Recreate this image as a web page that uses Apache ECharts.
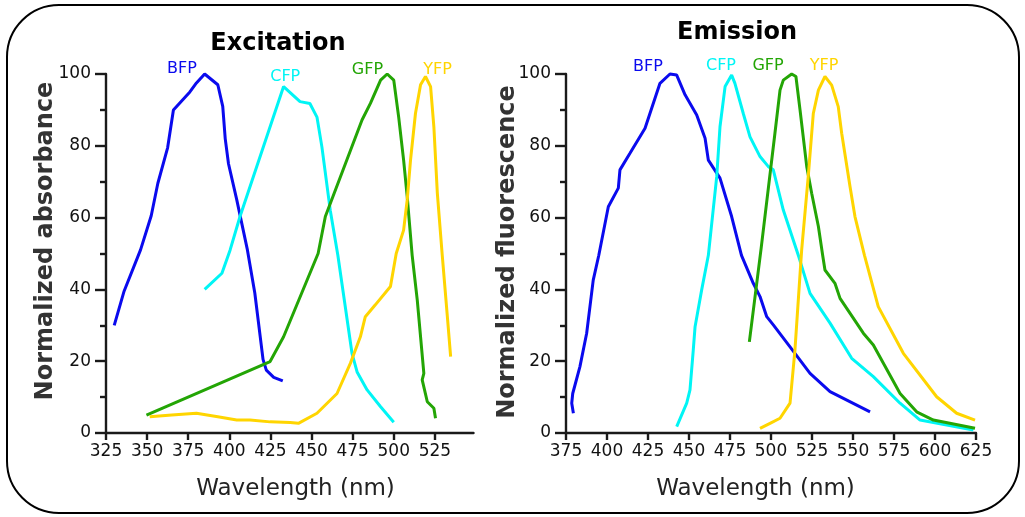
<!DOCTYPE html>
<html>
<head>
<meta charset="utf-8">
<script src="https://cdn.jsdelivr.net/npm/echarts@6/dist/echarts.min.js"></script>
<style>
html,body{margin:0;padding:0;background:#fff;}
#chart{width:1025px;height:517px;}
</style>
</head>
<body>
<div id="chart"></div>
<script>
// ---- Data (wavelength nm, normalized value) ----
var exBFP = [[330,30],[336,39.5],[346,51],[352.5,60.5],[356.5,69.5],[362.5,79.5],[366,90],[376,95],[380,97.5],[385,100],[393,97],[396,91],[397.5,82],[399.5,75],[404.5,65],[411,51],[415.5,39],[420.5,20.5],[422.5,17.5],[427,15.5],[432.5,14.5]];
var exCFP = [[385,40],[395.5,44.5],[400.5,51],[406.5,60.3],[433,96.5],[443,92.3],[449,91.8],[453.3,88],[456.3,79.7],[461.4,62],[466,49.5],[474.6,22.2],[477.7,17],[483.8,12],[492,7.3],[500,3]];
var exGFP = [[349.6,5],[424.8,19.9],[433,26.8],[454,50],[458.4,60.3],[480.7,87.2],[485.8,91.8],[492,98.3],[496,100],[500,98.3],[503,88],[506,76],[508.2,65.8],[511.2,49.5],[514.3,37],[518.3,16.6],[517.3,14.8],[520.4,8.7],[524.4,6.9],[525.4,4.1]];
var exYFP = [[351.6,4.5],[365,5],[380,5.5],[393,4.5],[404.5,3.6],[412.6,3.6],[424.8,3.1],[437,2.9],[442,2.7],[453.3,5.5],[465.5,11],[473.6,19.4],[479.7,26.8],[482.7,32.4],[488.8,35.7],[498,40.8],[501.5,50],[506,56.5],[508.2,65],[510.2,76],[513.2,89],[516.3,97],[519.3,99.3],[522.4,96.5],[524.4,85.3],[526.5,66.8],[529.5,49.5],[532.6,32.4],[534.6,21.3]];

var emBFP = [[379.5,5.5],[378.5,8.3],[379.1,11],[383.5,18.5],[387.6,27.8],[391.6,42.6],[395,49.5],[400.8,63],[406.9,68.2],[407.9,73.3],[414,77.9],[423.2,84.9],[432.3,97.4],[438.4,100],[442.5,99.7],[447.6,94.2],[454.7,88.6],[459.8,82.1],[461.8,76],[468.9,71],[476,60.3],[482,49.5],[489.2,41.7],[493.3,38],[497.4,32.4],[501.4,30.1],[511.6,24],[523.8,16.6],[536,11.5],[560.4,5.9]];
var emCFP = [[442.5,1.8],[448.6,8.3],[450.6,12],[452.6,23.1],[453.7,29.6],[457.7,39.8],[461.8,49.5],[466.9,71.4],[468.9,85.3],[472,96.5],[476,99.7],[478,97.4],[483.1,89],[487.2,82.5],[493.3,77],[498.4,74.2],[501.4,73.3],[507.5,62.1],[517,49],[523.8,38.9],[536,30.6],[549.2,20.8],[562.4,15.7],[578.7,8.3],[590.9,3.6],[623.4,0.8]];
var emGFP = [[486.8,25.4],[494,51.5],[502.4,83.5],[505.5,95.5],[507.5,98.3],[512.6,100],[515.2,99.3],[517.7,90],[521.8,74.2],[524.8,66.8],[528.9,57.5],[531.5,49.5],[532.9,45.4],[539,41.7],[542.1,37.5],[556.3,27.8],[562.4,24.5],[578.7,11],[588.8,5.9],[599,3.6],[624.4,1.3]];
var emYFP = [[493.3,1.3],[499.4,2.7],[505.5,4.1],[511.6,8.3],[514.6,23.1],[518.7,51],[522.7,71.4],[525.8,89],[528.9,95.5],[532.9,99.3],[537,96.9],[541,90.9],[543.1,83.5],[548.2,68.6],[551.2,60.3],[557,49.5],[565.4,35.2],[580.7,22.2],[601,10.1],[613.2,5.5],[624.4,3.6]];

// ---- Tick labels ----
var xTicksEx = [325,350,375,400,425,450,475,500,525];
var xTicksEm = [375,400,425,450,475,500,525,550,575,600,625];

// ---- Series names and label anchor positions (data coords) ----
var names = ['BFP','CFP','GFP','YFP'];
var exLabelPos = [[371.2,101.4],[434,99.2],[484,101.1],[526.6,101.1]];
var emLabelPos = [[425,102],[469.5,102.2],[498.2,102.2],[532.3,102.2]];

var colors = ['#0a0aee','#00f5f5','#23a505','#ffd500'];
var FONT = 'DejaVu Sans';

var chart = echarts.init(document.getElementById('chart'), null, {renderer:'canvas'});

function mkX(grid, min, max, ticks){
  return {
    type:'value', gridIndex:grid, min:min, max:max, interval:25,
    axisLine:{show:true, onZero:false, lineStyle:{color:'#1a1a1a', width:2.4}},
    axisTick:{show:true, length:7, customValues:ticks, lineStyle:{color:'#1a1a1a', width:2.4}},
    axisLabel:{show:true, customValues:ticks, margin:10, color:'#111', fontSize:17, fontFamily:FONT},
    splitLine:{show:false}
  };
}
function mkY(grid){
  return {
    type:'value', gridIndex:grid, min:0, max:100, interval:20,
    axisLine:{show:true, onZero:false, lineStyle:{color:'#1a1a1a', width:2.4}},
    axisTick:{show:true, length:11, lineStyle:{color:'#1a1a1a', width:2.4}},
    minorTick:{show:true, splitNumber:2, length:6, lineStyle:{color:'#1a1a1a', width:2.4}},
    axisLabel:{show:true, margin:15, color:'#111', fontSize:17, fontFamily:FONT},
    splitLine:{show:false}
  };
}

var series = [];
var exData = [exBFP, exCFP, exGFP, exYFP];
var emData = [emBFP, emCFP, emGFP, emYFP];
function addSeries(dataArr, axisIdx){
  for (var i=0;i<4;i++){
    series.push({
      type:'line', name:names[i]+axisIdx, xAxisIndex:axisIdx, yAxisIndex:axisIdx,
      data:dataArr[i], showSymbol:false, symbol:'none', smooth:false, clip:false,
      lineStyle:{color:colors[i], width:3},
      z: (i===3?3:2)
    });
  }
}
addSeries(exData, 0);
addSeries(emData, 1);

var graphics = [
  {type:'rect', shape:{x:7, y:5, width:1012, height:508, r:52}, style:{fill:'none', stroke:'#000', lineWidth:2}, silent:true},
  {type:'text', x:278, y:44, style:{text:'Excitation', font:'bold 24px "DejaVu Sans"', fill:'#000', align:'center', verticalAlign:'middle'}},
  {type:'text', x:737, y:33, style:{text:'Emission', font:'bold 24px "DejaVu Sans"', fill:'#000', align:'center', verticalAlign:'middle'}},
  {type:'text', x:46, y:241, rotation:Math.PI/2, style:{text:'Normalized absorbance', font:'bold 24px "DejaVu Sans"', fill:'#333', align:'center', verticalAlign:'middle'}},
  {type:'text', x:508, y:252, rotation:Math.PI/2, style:{text:'Normalized fluorescence', font:'bold 24px "DejaVu Sans"', fill:'#333', align:'center', verticalAlign:'middle'}},
  {type:'text', x:295.5, y:489, style:{text:'Wavelength (nm)', font:'23px "DejaVu Sans"', fill:'#222', align:'center', verticalAlign:'middle'}},
  {type:'text', x:755.5, y:489, style:{text:'Wavelength (nm)', font:'23px "DejaVu Sans"', fill:'#222', align:'center', verticalAlign:'middle'}}
];

var option = {
  backgroundColor:'#fff',
  animation:false,
  grid:[
    {left:106, top:74, width:367.5, height:359},
    {left:566, top:74, width:410, height:359}
  ],
  xAxis:[ mkX(0,325,548.5,xTicksEx), mkX(1,375,625,xTicksEm) ],
  yAxis:[ mkY(0), mkY(1) ],
  series:series,
  graphic:graphics
};
chart.setOption(option);

// Series name labels placed at data coordinates via the chart's own scales
function addLabels(pos, gridIdx){
  for (var i=0;i<4;i++){
    var p = chart.convertToPixel({xAxisIndex:gridIdx, yAxisIndex:gridIdx}, pos[i]);
    graphics.push({type:'text', x:p[0], y:p[1], style:{text:names[i], font:'16px "DejaVu Sans"', fill:colors[i], align:'center', verticalAlign:'middle'}});
  }
}
addLabels(exLabelPos, 0);
addLabels(emLabelPos, 1);
chart.setOption({graphic:graphics});
</script>
</body>
</html>
